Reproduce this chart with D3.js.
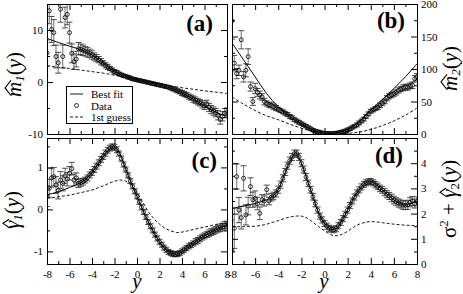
<!DOCTYPE html>
<html>
<head>
<meta charset="utf-8">
<script src="https://cdn.jsdelivr.net/npm/d3@7"></script>
<style>
    body { margin: 0; background: #fff; }
    svg { display: block; }
    svg text { font-family: "Liberation Serif", "Times New Roman", "DejaVu Serif", serif; }
</style>
</head>
<body>
<svg id="chart" width="463" height="294"></svg>
<script>
// sample positions (y) shared by the four panels
const yGrid = [
    -8, -7.8, -7.6, -7.4, -7.2, -7, -6.8, -6.6, -6.4, -6.2,
    -6, -5.8, -5.6, -5.4, -5.2, -5, -4.8, -4.6, -4.4, -4.2,
    -4, -3.8, -3.6, -3.4, -3.2, -3, -2.8, -2.6, -2.4, -2.2,
    -2, -1.8, -1.6, -1.4, -1.2, -1, -0.8, -0.6, -0.4, -0.2,
    0, 0.2, 0.4, 0.6, 0.8, 1, 1.2, 1.4, 1.6, 1.8,
    2, 2.2, 2.4, 2.6, 2.8, 3, 3.2, 3.4, 3.6, 3.8,
    4, 4.2, 4.4, 4.6, 4.8, 5, 5.2, 5.4, 5.6, 5.8,
    6, 6.2, 6.4, 6.6, 6.8, 7, 7.2, 7.4, 7.6, 7.8,
    8
];
const unitGrid = [-8, -7, -6, -5, -4, -3, -2, -1, 0, 1, 2, 3, 4, 5, 6, 7, 8];
const halfGrid = [-8, -7.5, -7, -6.5, -6, -5.5, -5, -4.5, -4, -3.5, -3, -2.5, -2, -1.5, -1, -0.5,
    0, 0.5, 1, 1.5, 2, 2.5, 3, 3.5, 4, 4.5, 5, 5.5, 6, 6.5, 7, 7.5, 8];

const xTicks = [-8, -6, -4, -2, 0, 2, 4, 6, 8];
const xMinor = [-7, -5, -3, -1, 1, 3, 5, 7];

// (a) m1
const aTicks = [-10, 0, 10];
const aMinor = [-5, 5];
const aData = [
    5.6, 13.7, 10.1, 9.5, 4.9, 3.7, 14.0, 4.9, 12.4, 13.0,
    9.5, 5.5, 3.9, 4.4, 6.4, 6.3, 6.1, 5.9, 5.7, 5.5,
    5.2, 4.9, 4.6, 4.3, 3.9, 3.6, 3.2, 2.9, 2.6, 2.3,
    2.0, 1.8, 1.6, 1.4, 1.2, 1.1, 0.9, 0.8, 0.6, 0.5,
    0.4, 0.3, 0.2, 0.1, 0.0, -0.1, -0.2, -0.3, -0.4, -0.5,
    -0.6, -0.7, -0.8, -0.9, -1.0, -1.2, -1.3, -1.5, -1.7, -1.9,
    -2.1, -2.3, -2.5, -2.8, -3.0, -3.3, -3.5, -3.8, -4.0, -4.3,
    -4.6, -4.2, -4.9, -5.3, -5.6, -5.9, -6.4, -7.2, -6.6, -6.0,
    -5.9
];
const aErr = [
    2.5, 2.5, 2.5, 2.5, 2.2, 2.0, 2.5, 2.2, 2.0, 2.0,
    2.0, 1.8, 1.5, 1.5, 1.2, 1.0, 1.0, 0.9, 0.9, 0.8,
    0.8, 0.7, 0.7, 0.6, 0.6, 0.5, 0.5, 0.5, 0.4, 0.4,
    0.4, 0.4, 0.3, 0.3, 0.3, 0.3, 0.3, 0.3, 0.3, 0.3,
    0.3, 0.3, 0.3, 0.3, 0.3, 0.3, 0.3, 0.3, 0.3, 0.3,
    0.3, 0.3, 0.3, 0.3, 0.3, 0.3, 0.4, 0.4, 0.4, 0.4,
    0.5, 0.5, 0.5, 0.5, 0.5, 0.6, 0.6, 0.6, 0.6, 0.7,
    0.7, 0.7, 0.8, 0.8, 0.8, 0.8, 0.9, 0.9, 0.9, 0.9,
    0.9
];
const aFit = [8.4, 7.6, 6.9, 6.2, 5.2, 3.6, 2.0, 1.1, 0.4, -0.1, -0.6, -1.2, -2.1, -3.3, -4.6, -5.8, -6.6];
const aGuess = [3.1, 2.85, 2.6, 2.3, 2.0, 1.7, 1.3, 0.85, 0.4, 0.0, -0.4, -0.75, -1.1, -1.4, -1.7, -1.95, -2.2];

// (b) m2
const bTicks = [0, 50, 100, 150, 200];
const bMinor = [25, 75, 125, 175];
const bData = [
    174, 109, 93, 98, 145, 88, 98, 119, 73, 50,
    70, 64, 60, 57, 50, 47, 45, 44, 42, 40,
    38, 36, 34, 32, 30, 27, 25, 22, 20, 18,
    16, 14, 12, 10, 8, 6, 4.5, 3.5, 2.5, 1.5,
    1, 0.8, 0.6, 0.6, 0.8, 1.2, 1.8, 2.6, 3.6, 4.8,
    6.5, 8, 10, 12, 14, 17, 20, 23, 27, 31,
    35, 37, 39, 41, 44, 47, 50, 55, 58, 60,
    62, 64, 67, 69, 71, 72, 72, 74, 75, 85,
    88
];
const bErr = [
    28, 12, 8, 8, 14, 8, 10, 12, 7, 6,
    8, 6, 6, 5, 5, 4, 4, 4, 4, 4,
    3, 3, 3, 3, 3, 3, 3, 3, 3, 3,
    2.5, 2.5, 2.5, 2.5, 2.5, 2.5, 2.5, 2.5, 2.5, 2.5,
    2.5, 2.5, 2.5, 2.5, 2.5, 2.5, 2.5, 2.5, 2.5, 2.5,
    2.5, 2.5, 2.5, 2.5, 3, 3, 3, 3, 3, 3,
    3, 3, 3, 3.5, 3.5, 3.5, 3.5, 4, 4, 4,
    4, 4, 4, 4, 4.5, 4.5, 4.5, 4.5, 5, 5,
    5
];
const bFit = [140, 114, 88, 62, 42, 27, 15, 6, 1, 1.5, 7, 19, 37, 53, 70, 88, 108];
const bGuess = [57, 46, 36, 28, 22, 15, 9, 4, 1, 0, 1, 3, 7, 13, 20, 29, 40];

// (c) gamma1
const cTicks = [-1, 0, 1];
const cMinor = [-0.5, 0.5, 1.5];
const cData = [
    0.32, 0.50, 0.75, 0.78, 0.58, 0.45, 0.70, 0.62, 0.80, 0.72,
    0.86, 0.97, 0.70, 0.75, 0.62, 0.64, 0.66, 0.70, 0.75, 0.82,
    0.88, 0.95, 1.03, 1.11, 1.19, 1.26, 1.34, 1.41, 1.46, 1.49,
    1.48, 1.42, 1.33, 1.21, 1.07, 0.95, 0.81, 0.68, 0.55, 0.43,
    0.31, 0.18, 0.05, -0.06, -0.18, -0.30, -0.40, -0.50, -0.60, -0.69,
    -0.77, -0.84, -0.91, -0.96, -1.01, -1.04, -1.06, -1.07, -1.06, -1.04,
    -1.00, -0.96, -0.92, -0.88, -0.85, -0.81, -0.77, -0.74, -0.70, -0.66,
    -0.63, -0.60, -0.57, -0.54, -0.52, -0.49, -0.46, -0.44, -0.42, -0.38,
    -0.37
];
const cErr = [
    0.25, 0.22, 0.22, 0.22, 0.20, 0.20, 0.20, 0.18, 0.18, 0.16,
    0.16, 0.15, 0.14, 0.12, 0.10, 0.09, 0.08, 0.07, 0.07, 0.07,
    0.07, 0.07, 0.07, 0.07, 0.07, 0.07, 0.07, 0.07, 0.07, 0.07,
    0.07, 0.07, 0.06, 0.06, 0.06, 0.06, 0.06, 0.06, 0.06, 0.06,
    0.06, 0.06, 0.06, 0.06, 0.06, 0.06, 0.06, 0.06, 0.06, 0.06,
    0.06, 0.06, 0.06, 0.06, 0.06, 0.06, 0.06, 0.06, 0.06, 0.06,
    0.06, 0.06, 0.06, 0.06, 0.06, 0.06, 0.07, 0.07, 0.07, 0.07,
    0.07, 0.07, 0.08, 0.08, 0.08, 0.08, 0.08, 0.09, 0.09, 0.09,
    0.09
];
const cFit = [0.35, 0.38, 0.42, 0.47, 0.52, 0.58, 0.64, 0.74, 0.88, 1.06, 1.26, 1.42, 1.49, 1.31, 0.96, 0.62,
    0.31, 0.0, -0.30, -0.55, -0.77, -0.94, -1.04, -1.07, -1.0, -0.90, -0.81, -0.71, -0.63, -0.55, -0.49, -0.43, -0.37];
const cGuess = [0.27, 0.28, 0.30, 0.32, 0.34, 0.37, 0.40, 0.43, 0.46, 0.51, 0.56, 0.62, 0.67, 0.70, 0.67, 0.57,
    0.40, 0.18, -0.05, -0.22, -0.35, -0.45, -0.51, -0.55, -0.54, -0.51, -0.48, -0.45, -0.42, -0.39, -0.36, -0.34, -0.32];

// (d) sigma^2 + gamma2
const dTicks = [0, 1, 2, 3, 4];
const dMinor = [0.5, 1.5, 2.5, 3.5, 4.5];
const dData = [
    0.55, 1.42, 3.47, 2.14, 1.84, 3.40, 1.95, 2.30, 3.07, 2.55,
    2.60, 2.40, 2.01, 2.55, 2.50, 2.95, 2.50, 2.65, 2.70, 2.80,
    2.95, 3.15, 3.40, 3.65, 3.90, 4.10, 4.25, 4.38, 4.38, 4.25,
    4.00, 3.75, 3.45, 3.20, 2.95, 2.67, 2.40, 2.14, 1.90, 1.75,
    1.61, 1.50, 1.42, 1.38, 1.36, 1.40, 1.52, 1.65, 1.80, 1.97,
    2.14, 2.32, 2.50, 2.66, 2.82, 2.94, 3.06, 3.16, 3.22, 3.26,
    3.27, 3.22, 3.15, 3.08, 3.00, 2.94, 2.85, 2.77, 2.70, 2.62,
    2.54, 2.48, 2.42, 2.38, 2.34, 2.33, 2.35, 2.45, 2.50, 2.40,
    2.48
];
const dErr = [
    1.20, 0.80, 0.50, 0.50, 0.45, 0.50, 0.40, 0.35, 0.35, 0.30,
    0.30, 0.25, 0.25, 0.20, 0.20, 0.18, 0.15, 0.15, 0.15, 0.14,
    0.14, 0.14, 0.14, 0.14, 0.14, 0.14, 0.14, 0.14, 0.14, 0.14,
    0.14, 0.14, 0.14, 0.13, 0.13, 0.13, 0.13, 0.12, 0.12, 0.12,
    0.12, 0.12, 0.12, 0.12, 0.12, 0.12, 0.12, 0.12, 0.12, 0.12,
    0.12, 0.12, 0.12, 0.12, 0.12, 0.12, 0.12, 0.12, 0.12, 0.12,
    0.12, 0.12, 0.13, 0.13, 0.13, 0.13, 0.14, 0.14, 0.14, 0.15,
    0.15, 0.15, 0.16, 0.16, 0.17, 0.17, 0.18, 0.18, 0.18, 0.18,
    0.18
];
const dFit = [2.20, 2.25, 2.30, 2.35, 2.40, 2.47, 2.55, 2.68, 2.95, 3.50, 4.05, 4.40, 4.00, 3.35, 2.67, 2.02,
    1.61, 1.39, 1.40, 1.71, 2.14, 2.60, 2.94, 3.20, 3.27, 3.13, 2.94, 2.74, 2.54, 2.41, 2.34, 2.41, 2.48];
const dGuess = [1.48, 1.48, 1.48, 1.49, 1.50, 1.53, 1.58, 1.65, 1.72, 1.80, 1.86, 1.90, 1.90, 1.82, 1.66, 1.48,
    1.32, 1.17, 1.12, 1.18, 1.30, 1.45, 1.58, 1.65, 1.68, 1.67, 1.64, 1.61, 1.58, 1.56, 1.54, 1.53, 1.52];

const legendItems = ["Best fit", "Data", "1st guess"];

const serif = "Liberation Serif, Times New Roman, serif";
const svg = d3.select("#chart");

drawPanel({name: "a", left: 47, right: 227, top: 4, bottom: 134, yDomain: [-10, 15],
    yTicks: aTicks, yMinor: aMinor, side: "left", showX: false,
    values: aData, errors: aErr, fitX: unitGrid, fit: aFit, guessX: unitGrid, guess: aGuess,
    tag: "(a)", tagX: 213, tagY: 31});
drawPanel({name: "b", left: 232, right: 417, top: 4, bottom: 134, yDomain: [0, 200],
    yTicks: bTicks, yMinor: bMinor, side: "right", showX: false,
    values: bData, errors: bErr, fitX: unitGrid, fit: bFit, guessX: unitGrid, guess: bGuess,
    tag: "(b)", tagX: 405, tagY: 28});
drawPanel({name: "c", left: 47, right: 227, top: 138, bottom: 264, yDomain: [-1.3, 1.7],
    yTicks: cTicks, yMinor: cMinor, side: "left", showX: true,
    values: cData, errors: cErr, fitX: halfGrid, fit: cFit, guessX: halfGrid, guess: cGuess,
    tag: "(c)", tagX: 217, tagY: 168});
drawPanel({name: "d", left: 232, right: 417, top: 138, bottom: 264, yDomain: [0, 5],
    yTicks: dTicks, yMinor: dMinor, side: "right", showX: true,
    values: dData, errors: dErr, fitX: halfGrid, fit: dFit, guessX: halfGrid, guess: dGuess,
    tag: "(d)", tagX: 403, tagY: 163});

drawLegend(66, 86);

yTitle(21, 72, -25, [
    {t: "m", italic: true}, {t: "1", italic: true, size: 13, dy: 3}, {t: "(", dy: -3}, {t: "y", italic: true}, {t: ")"}
], 0);
yTitle(457, 70, -21, [
    {t: "m", italic: true}, {t: "2", italic: true, size: 13, dy: 3}, {t: "(", dy: -3}, {t: "y", italic: true}, {t: ")"}
], 0);
yTitle(19, 205, -24, [
    {t: "γ", italic: true}, {t: "1", italic: true, size: 13, dy: 3}, {t: "(", dy: -3}, {t: "y", italic: true}, {t: ")"}
], 0);
yTitle(456, 200, -38, [
    {t: "σ"}, {t: "2", size: 13, dy: -8}, {t: " + ", dy: 8}, {t: "γ", italic: true},
    {t: "2", size: 13, dy: 3}, {t: "(", dy: -3}, {t: "y", italic: true}, {t: ")"}
], 5);

[137, 324].forEach(function (cx) {
    svg.append("text")
        .attr("x", cx)
        .attr("y", 288)
        .attr("text-anchor", "middle")
        .attr("font-family", serif)
        .attr("font-style", "italic")
        .attr("font-size", 21)
        .text("y");
});

/** Draw one panel: error bars, points, fit and guess curves, framed axes
 *
 * @param p panel settings
 */
function drawPanel(p) {
    const w = p.right - p.left;
    const h = p.bottom - p.top;
    const x = d3.scaleLinear().domain([-8, 8]).range([0, w]);
    const y = d3.scaleLinear().domain(p.yDomain).range([h, 0]);

    const g = svg.append("g")
        .attr("transform", "translate(" + p.left + "," + p.top + ")");

    g.append("clipPath")
        .attr("id", "clip-" + p.name)
        .append("rect")
        .attr("width", w)
        .attr("height", h);

    const plot = g.append("g")
        .attr("clip-path", "url(#clip-" + p.name + ")");

    const points = p.values.map(function (v, i) {
        return {x: yGrid[i], v: v, e: p.errors[i]};
    });

    const bar = plot.append("g")
        .selectAll("g")
        .data(points)
        .enter()
        .append("g");

    bar.append("line")
        .attr("x1", function (d) { return x(d.x); })
        .attr("x2", function (d) { return x(d.x); })
        .attr("y1", function (d) { return y(d.v - d.e); })
        .attr("y2", function (d) { return y(d.v + d.e); })
        .attr("stroke", "#888")
        .attr("stroke-width", 1.2);

    [-1, 1].forEach(function (s) {
        bar.append("line")
            .attr("x1", function (d) { return x(d.x) - 3; })
            .attr("x2", function (d) { return x(d.x) + 3; })
            .attr("y1", function (d) { return y(d.v + s * d.e); })
            .attr("y2", function (d) { return y(d.v + s * d.e); })
            .attr("stroke", "#222")
            .attr("stroke-width", 0.8);
    });

    plot.append("g")
        .selectAll("circle")
        .data(points)
        .enter()
        .append("circle")
        .attr("cx", function (d) { return x(d.x); })
        .attr("cy", function (d) { return y(d.v); })
        .attr("r", 2)
        .attr("fill", "none")
        .attr("stroke", "#000")
        .attr("stroke-width", 0.8);

    const line = d3.line()
        .x(function (d) { return x(d[0]); })
        .y(function (d) { return y(d[1]); })
        .curve(d3.curveCatmullRom);

    plot.append("path")
        .datum(d3.zip(p.guessX, p.guess))
        .attr("d", line)
        .attr("fill", "none")
        .attr("stroke", "#000")
        .attr("stroke-width", 0.9)
        .attr("stroke-dasharray", "3,2");

    plot.append("path")
        .datum(d3.zip(p.fitX, p.fit))
        .attr("d", line)
        .attr("fill", "none")
        .attr("stroke", "#000")
        .attr("stroke-width", 1);

    const fmt = function (d) { return String(d); };

    addAxis(g, d3.axisBottom(x), xTicks, xMinor, "translate(0," + h + ")", p.showX ? fmt : "", 6);
    addAxis(g, d3.axisTop(x), xTicks, xMinor, null, "", 0);
    addAxis(g, d3.axisLeft(y), p.yTicks, p.yMinor, null, p.side === "left" ? fmt : "", 4);
    addAxis(g, d3.axisRight(y), p.yTicks, p.yMinor, "translate(" + w + ",0)", p.side === "right" ? fmt : "", 4);

    g.append("rect")
        .attr("x", 0.5)
        .attr("y", 0.5)
        .attr("width", w)
        .attr("height", h)
        .attr("fill", "none")
        .attr("stroke", "#000")
        .attr("stroke-width", 1);

    svg.append("text")
        .attr("x", p.tagX)
        .attr("y", p.tagY)
        .attr("text-anchor", "end")
        .attr("font-family", serif)
        .attr("font-weight", "bold")
        .attr("font-size", 23)
        .text(p.tag);
}

/** Inward ticks on one edge, major and minor
 */
function addAxis(g, axis, major, minor, transform, format, padding) {
    const a = g.append("g")
        .attr("transform", transform)
        .call(axis.tickValues(major).tickSize(-6).tickPadding(padding).tickFormat(format));
    const m = g.append("g")
        .attr("transform", transform)
        .call(axis.tickValues(minor).tickSize(-3).tickFormat(""));

    [a, m].forEach(function (s) {
        s.select(".domain").remove();
        s.attr("font-family", serif).attr("font-size", 11);
        s.selectAll("text").attr("fill", "#000");
    });
}

/** Legend box inside panel (a)
 */
function drawLegend(x0, y0) {
    const g = svg.append("g")
        .attr("transform", "translate(" + x0 + "," + y0 + ")");

    g.append("rect")
        .attr("x", 0.5)
        .attr("y", 0.5)
        .attr("width", 66)
        .attr("height", 37)
        .attr("fill", "#fff")
        .attr("stroke", "#000");

    const row = g.selectAll("g")
        .data(legendItems)
        .enter()
        .append("g")
        .attr("transform", function (d, i) {
            return "translate(0," + (8 + i * 11.5) + ")";
        });

    row.filter(function (d, i) { return i !== 1; })
        .append("line")
        .attr("x1", 4)
        .attr("x2", 17)
        .attr("stroke", "#000")
        .attr("stroke-width", 0.9)
        .attr("stroke-dasharray", function (d, i) {
            return i === 1 ? "3,2" : null;
        });

    row.filter(function (d, i) { return i === 1; })
        .append("circle")
        .attr("cx", 10.5)
        .attr("r", 2)
        .attr("fill", "none")
        .attr("stroke", "#000")
        .attr("stroke-width", 0.8);

    row.append("text")
        .attr("x", 25)
        .attr("y", 4)
        .attr("font-family", serif)
        .attr("font-size", 11)
        .text(function (d) { return d; });
}

/** Rotated axis title with a hat over one character
 */
function yTitle(px, py, start, parts, hatIndex) {
    const g = svg.append("g")
        .attr("transform", "translate(" + px + "," + py + ") rotate(-90)");

    const text = g.append("text")
        .attr("x", start)
        .attr("y", 0)
        .attr("font-family", serif)
        .attr("font-size", 21);

    parts.forEach(function (part) {
        text.append("tspan")
            .attr("font-style", part.italic ? "italic" : null)
            .attr("font-size", part.size || null)
            .attr("dy", part.dy || null)
            .text(part.t);
    });

    const e = text.node().getExtentOfChar(hatIndex);
    const x0 = e.x + 1.5;
    const x1 = e.x + e.width + 1.5;
    g.append("path")
        .attr("d", "M" + x0 + ",-10 L" + ((x0 + x1) / 2) + ",-16 L" + x1 + ",-10")
        .attr("fill", "none")
        .attr("stroke", "#000")
        .attr("stroke-width", 1.1);
}
</script>
</body>
</html>
